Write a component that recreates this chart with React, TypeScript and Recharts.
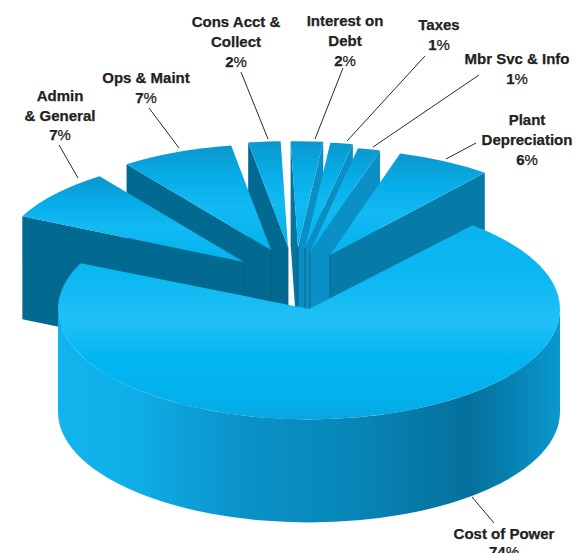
import React from "react";
import { PieChart, Pie } from "recharts";

// ---- data ----
const sliceNames = ["Admin & General", "Ops & Maint", "Cons Acct & Collect", "Interest on Debt", "Taxes", "Mbr Svc & Info", "Plant Depreciation"];
const sliceValues = [7.45, 7, 2, 2, 1.4, 1.4, 5.9];
const slicePercents = ["7", "7", "2", "2", "1", "1", "6"];
const mainName = "Cost of Power";
const mainValue = 74;
const mainPercent = "74";

const sliceData = sliceNames.map((name, i) => ({ name, value: sliceValues[i] }));
const mainData = [{ name: mainName, value: mainValue }];
const percentOf: Record<string, string> = { [mainName]: mainPercent };
sliceNames.forEach((n, i) => { percentOf[n] = slicePercents[i]; });

// ---- layout / style only ----
const W = 587, H = 553;
const CX = 309, CY = 309;
const R_MAIN = 251, R_SLICE = 246;
const TILT_MAIN = 0.44, TILT_SLICE = 0.43;
const DEPTH = 103;
const RAD = Math.PI / 180;

const explode: Record<string, [number, number]> = {
  "Admin & General": [-65, -47],
  "Ops & Maint": [-38, -59],
  "Cons Acct & Collect": [-21, -62],
  "Interest on Debt": [-11, -62],
  "Taxes": [-4, -61],
  "Mbr Svc & Info": [1, -57],
  "Plant Depreciation": [21, -54],
};
const rightWall: Record<string, string> = {
  "Interest on Debt": "#0a8ec3",
  "Taxes": "#0a8ec3",
  "Mbr Svc & Info": "#0a90c6",
  "Plant Depreciation": "#077ba8",
};

type Lab = { lines: string[]; x: number; y: number; lh: number; from: [number, number]; to: [number, number] };
const labels: Record<string, Lab> = {
  "Admin & General": { lines: ["Admin", "& General"], x: 60, y: 101, lh: 19.5, from: [59, 145], to: [78, 178] },
  "Ops & Maint": { lines: ["Ops & Maint"], x: 146, y: 83, lh: 19.5, from: [149, 108], to: [179, 148] },
  "Cons Acct & Collect": { lines: ["Cons Acct &", "Collect"], x: 236, y: 27, lh: 20, from: [241, 72], to: [268, 139] },
  "Interest on Debt": { lines: ["Interest on", "Debt"], x: 345, y: 26, lh: 20, from: [343, 68], to: [315, 139] },
  "Taxes": { lines: ["Taxes"], x: 439, y: 30, lh: 20, from: [425, 56], to: [347, 141] },
  "Mbr Svc & Info": { lines: ["Mbr Svc & Info"], x: 517, y: 64, lh: 20, from: [479, 75], to: [373, 147] },
  "Plant Depreciation": { lines: ["Plant", "Depreciation"], x: 527, y: 125, lh: 20, from: [476, 143], to: [446, 159] },
  [mainName]: { lines: ["Cost of Power"], x: 504, y: 539, lh: 18, from: [472, 497], to: [494, 523] },
};

const f = (n: number) => n.toFixed(2);

function Label({ name }: { name: string }) {
  const l = labels[name];
  return (
    <g>
      <line x1={l.from[0]} y1={l.from[1]} x2={l.to[0]} y2={l.to[1]} stroke="#2a2a2a" strokeWidth={1} />
      <text textAnchor="middle" fontFamily="'Liberation Sans', Arial, sans-serif" fontSize={15} fill="#222" stroke="#222" strokeWidth={0.25}>
        {l.lines.map((t, i) => (
          <tspan key={i} x={l.x} y={l.y + i * l.lh} fontWeight={700}>{t}</tspan>
        ))}
        <tspan x={l.x} y={l.y + l.lines.length * l.lh} fontWeight={700}>{percentOf[name]}</tspan>
        <tspan fontWeight={400}>%</tspan>
      </text>
    </g>
  );
}

function geom(p: any) {
  const name: string = p.payload?.name ?? p.name;
  const [dx, dy] = explode[name];
  const ax = p.cx + dx, ay = p.cy + dy;
  const rx = p.outerRadius, ry = rx * TILT_SLICE;
  const pt = (a: number): [number, number] => [ax + rx * Math.cos(a * RAD), ay - ry * Math.sin(a * RAD)];
  return { name, ax, ay, rx, ry, s: pt(p.startAngle), e: pt(p.endAngle) };
}

function wallPath(ax: number, ay: number, q: [number, number]) {
  return `M${f(ax)},${f(ay)} L${f(q[0])},${f(q[1])} L${f(q[0])},${f(q[1] + DEPTH)} L${f(ax)},${f(ay + DEPTH)} Z`;
}

function SliceWalls(p: any) {
  const g = geom(p);
  return (
    <g>
      {p.startAngle > 90 && <path d={wallPath(g.ax, g.ay, g.s)} fill={g.name === "Interest on Debt" ? "#07749f" : "#026a91"} />}
      {p.endAngle < 90 && <path d={wallPath(g.ax, g.ay, g.e)} fill={rightWall[g.name]} />}
    </g>
  );
}

function SliceTop(p: any) {
  const g = geom(p);
  const d = `M${f(g.ax)},${f(g.ay)} L${f(g.s[0])},${f(g.s[1])} A${g.rx},${f(g.ry)} 0 0 1 ${f(g.e[0])},${f(g.e[1])} Z`;
  return (
    <g>
      <line x1={g.ax} y1={g.ay} x2={g.ax} y2={g.ay + DEPTH} stroke="#035a7c" strokeWidth={0.8} />
      <path d={d} fill="url(#sliceTop)" />
      <Label name={g.name} />
    </g>
  );
}

function MainSlice(p: any) {
  const { cx, cy, outerRadius: rx, startAngle, endAngle } = p;
  const ry = rx * TILT_MAIN;
  const pt = (a: number) => [cx + rx * Math.cos(a * RAD), cy - ry * Math.sin(a * RAD)];
  const s = pt(startAngle), e = pt(endAngle);
  const large = Math.abs(startAngle - endAngle) > 180 ? 1 : 0;
  const top = `M${f(cx)},${f(cy)} L${f(s[0])},${f(s[1])} A${rx},${f(ry)} 0 ${large} 1 ${f(e[0])},${f(e[1])} Z`;
  const wall = `M${cx + rx},${cy} A${rx},${f(ry)} 0 0 1 ${cx - rx},${cy} L${cx - rx},${cy + DEPTH} A${rx},${f(ry)} 0 0 0 ${cx + rx},${cy + DEPTH} Z`;
  return (
    <g>
      <path d={wall} fill="url(#mainWall)" />
      <path d={top} fill="url(#mainTop)" />
      <Label name={mainName} />
    </g>
  );
}

export default function App() {
  return (
    <div style={{ position: "absolute", left: 0, top: 0, width: W, height: H, background: "#fff", overflow: "hidden" }}>
      <PieChart width={W} height={H} margin={{ top: 0, right: 0, bottom: 0, left: 0 }}>
        <defs>
          <linearGradient id="sliceTop" x1="0" y1="0" x2="0" y2="1">
            <stop offset="0" stopColor="#0b97cd" />
            <stop offset="0.3" stopColor="#07ade8" />
            <stop offset="0.6" stopColor="#12b9f2" />
            <stop offset="1" stopColor="#03b2ee" />
          </linearGradient>
          <linearGradient id="mainTop" gradientUnits="userSpaceOnUse" x1="0" y1="200" x2="0" y2="420">
            <stop offset="0" stopColor="#06b0ec" />
            <stop offset="0.35" stopColor="#0cb8f2" />
            <stop offset="0.55" stopColor="#20c0f6" />
            <stop offset="0.72" stopColor="#02b6f3" />
            <stop offset="0.92" stopColor="#03b0ea" />
            <stop offset="1" stopColor="#0aa5dc" />
          </linearGradient>
          <linearGradient id="mainWall" gradientUnits="userSpaceOnUse" x1="58" y1="0" x2="560" y2="0">
            <stop offset="0" stopColor="#13b4ee" />
            <stop offset="0.15" stopColor="#0faee8" />
            <stop offset="0.35" stopColor="#0a94ca" />
            <stop offset="0.6" stopColor="#0785b6" />
            <stop offset="0.82" stopColor="#05709c" />
            <stop offset="0.92" stopColor="#0786b7" />
            <stop offset="1" stopColor="#0a98cf" />
          </linearGradient>
        </defs>
        <Pie data={sliceData} dataKey="value" nameKey="name" cx={CX} cy={CY} innerRadius={0} outerRadius={R_SLICE}
          startAngle={154.3} endAngle={51} stroke="none" isAnimationActive={false} shape={SliceWalls} />
        <Pie data={sliceData} dataKey="value" nameKey="name" cx={CX} cy={CY} innerRadius={0} outerRadius={R_SLICE}
          startAngle={154.3} endAngle={51} stroke="none" isAnimationActive={false} shape={SliceTop} />
        <Pie data={mainData} dataKey="value" nameKey="name" cx={CX} cy={CY} innerRadius={0} outerRadius={R_MAIN}
          startAngle={49.3} endAngle={-204.5} stroke="none" isAnimationActive={false} shape={MainSlice} />
      </PieChart>
    </div>
  );
}
